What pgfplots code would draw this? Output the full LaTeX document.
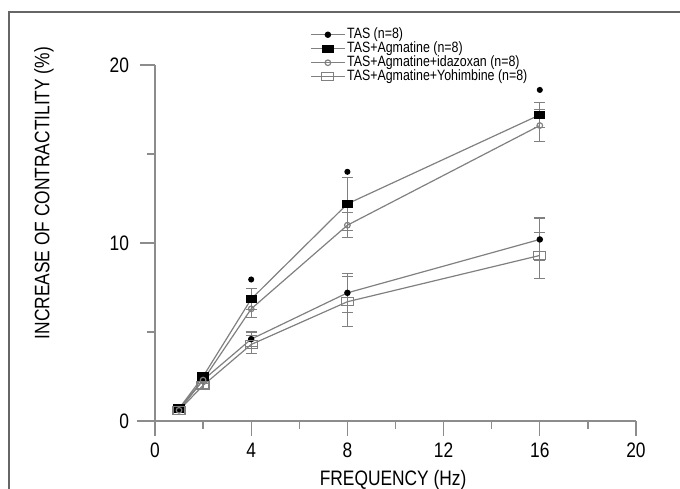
\documentclass[border=0pt]{standalone}
\usepackage{fontspec}
\setmainfont[FakeStretch=0.83]{Liberation Sans}
\usepackage{pgfplots}
\pgfplotsset{compat=1.18}
\definecolor{ln}{gray}{0.5}
\definecolor{ax}{gray}{0.55}
\begin{document}
\begin{tikzpicture}
\useasboundingbox (-77.5bp,-34bp) rectangle (262.5bp,210.5bp);
\draw[line width=0.8bp, gray!80!black] (-73bp,-34bp) -- (-73bp,204.5bp) -- (262.5bp,204.5bp);
\begin{axis}[
  at={(0,0)}, anchor=origin,
  scale only axis, width=240.5bp, height=178bp,
  xmin=0, xmax=20, ymin=0, ymax=20,
  axis lines=left, axis line style={ax, line width=0.6bp, -},
  clip=false,
  xtick={0,4,...,20}, minor xtick={2,6,...,18},
  ytick={0,10,20}, minor ytick={5,15},
  tick align=outside, major tick length=7.5bp, minor tick length=4bp,
  tick style={ax, line width=0.6bp},
  every tick label/.append style={font=\fontsize{10.5}{12}\selectfont},
  yticklabel style={xshift=-2bp},
  /pgf/number format/assume math mode=true,
  xlabel={FREQUENCY (Hz)},
  ylabel={INCREASE OF CONTRACTILITY (\%)},
  xlabel style={font=\fontsize{10.5}{12}\selectfont, at={(axis description cs:0.495,0)}, anchor=center, yshift=-29.5bp},
  ylabel style={font=\fontsize{10.5}{12}\selectfont, at={(axis description cs:-0.231,0.64)}, anchor=center},
  legend style={at={(axis description cs:0.322,1.11)}, anchor=north west, draw=none, fill=none,
    font=\fontsize{7.5}{7}\selectfont, row sep=-1.5bp, inner sep=0pt, nodes={inner sep=0.8pt}},
  legend cell align=left,
  every axis plot/.append style={line width=0.6bp},
  error bars/error bar style={ln, line width=0.6bp},
  error bars/error mark options={rotate=90, mark size=2.8bp, line width=0.6bp, ln},
]
% TAS (n=8)
\addplot[ln, mark=*, mark size=1.3bp, mark options={black, solid},
  error bars/.cd, y dir=both, y explicit]
  coordinates {(1,0.7) +- (0,0.1) (2,2.3) +- (0,0.2) (4,4.6) +- (0,0.4) (8,7.2) +- (0,1.1) (16,10.2) +- (0,1.2)};
\addlegendentry{TAS (n=8)}
% TAS+Agmatine
\addplot[ln, mark=square*, mark size=1.8bp, mark options={black, solid, xscale=1.4},
  error bars/.cd, y dir=both, y explicit]
  coordinates {(1,0.7) +- (0,0.1) (2,2.5) +- (0,0.2) (4,6.85) +- (0,0.6) (8,12.2) +- (0,1.5) (16,17.2) +- (0,0.7)};
\addlegendentry{TAS+Agmatine (n=8)}
% TAS+Agmatine+idazoxan
\addplot[ln, mark=o, mark size=1.4bp, mark options={ln, fill=white, solid},
  error bars/.cd, y dir=both, y explicit]
  coordinates {(1,0.6) +- (0,0.1) (2,2.3) +- (0,0.2) (4,6.3) +- (0,0.5) (8,11.0) +- (0,0.7) (16,16.6) +- (0,0.9)};
\addlegendentry{TAS+Agmatine+idazoxan (n=8)}
% TAS+Agmatine+Yohimbine
\addplot[ln, mark=square, mark size=2bp, mark options={ln, fill=white, solid, xscale=1.5},
  error bars/.cd, y dir=both, y explicit]
  coordinates {(1,0.6) +- (0,0.1) (2,2.0) +- (0,0.2) (4,4.3) +- (0,0.5) (8,6.7) +- (0,1.4) (16,9.3) +- (0,1.3)};
\addlegendentry{TAS+Agmatine+Yohimbine (n=8)}
% significance marks
\addplot[only marks, mark=*, mark size=1.2bp, black, forget plot]
  coordinates {(4,7.95) (8,14.0) (16,18.6)};
\draw[ax, line width=0.6bp] (axis cs:-0.75,0) -- (axis cs:0,0);
\end{axis}
\end{tikzpicture}
\end{document}
